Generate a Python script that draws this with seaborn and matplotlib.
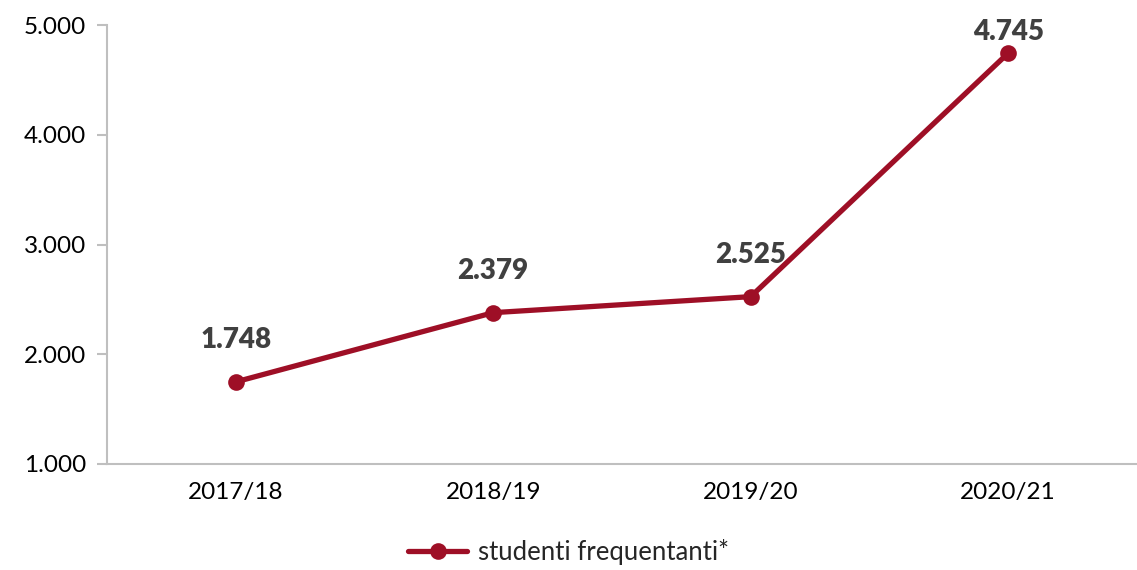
import pandas as pd
import matplotlib.pyplot as plt
import matplotlib.ticker as mticker
import seaborn as sns

# Data
anni = ["2017/18", "2018/19", "2019/20", "2020/21"]
studenti = [1748, 2379, 2525, 4745]
serie = "studenti frequentanti*"

df = pd.DataFrame({"anno": anni, "studenti": studenti})

sns.set_style("white")
plt.rcParams["font.family"] = ["Lato", "DejaVu Sans"]

rosso = "#9E0F26"
grigio = "#BFBFBF"

fig = plt.figure(figsize=(11.37, 5.70), dpi=100)
ax = fig.add_axes([0.094, 0.186, 0.906, 0.770])

sns.lineplot(data=df, x="anno", y="studenti", ax=ax, color=rosso, linewidth=3.8,
             marker="o", markersize=17, markeredgewidth=0, label=serie, sort=False)

# Data labels
offsets = [30, 30, 30, 15]
for i, (v, off) in enumerate(zip(studenti, offsets)):
    ax.annotate(f"{v:,}".replace(",", "."), (i, v), xytext=(0, off), textcoords="offset points",
                ha="center", va="center", fontsize=20, fontweight="heavy", color="#404040")

ax.set_ylim(1000, 5000)
ax.set_xlim(-0.5, 3.46)
ax.yaxis.set_major_locator(mticker.MultipleLocator(1000))
ax.yaxis.set_major_formatter(mticker.FuncFormatter(lambda v, p: f"{int(v):,}".replace(",", ".")))

# Excel-style category ticks between categories
ax.set_xticks(range(len(anni)))
ax.set_xticklabels(anni)
ax.set_xticks([-0.5, 0.5, 1.5, 2.5, 3.5], minor=True)
ax.tick_params(axis="x", which="major", length=0, pad=13, labelsize=17.5, labelcolor="black")
ax.tick_params(axis="x", which="minor", length=7, width=1.5, color=grigio, direction="out")
ax.tick_params(axis="y", length=7, width=1.5, color=grigio, direction="out", pad=8,
               labelsize=17.5, labelcolor="black")
ax.tick_params(left=True)

for s in ["top", "right"]:
    ax.spines[s].set_visible(False)
for s in ["left", "bottom"]:
    ax.spines[s].set_color(grigio)
    ax.spines[s].set_linewidth(1.5)

ax.set_xlabel("")
ax.set_ylabel("")

ax.get_legend().remove()
handles, labels = ax.get_legend_handles_labels()
handles[0].set_markersize(12)
fig.legend(handles, labels, loc="lower center", bbox_to_anchor=(0.5, -0.032), frameon=False,
           fontsize=18.5, handlelength=2.3, handletextpad=0.4)

plt.savefig("out.png", dpi=100)
plt.close()
